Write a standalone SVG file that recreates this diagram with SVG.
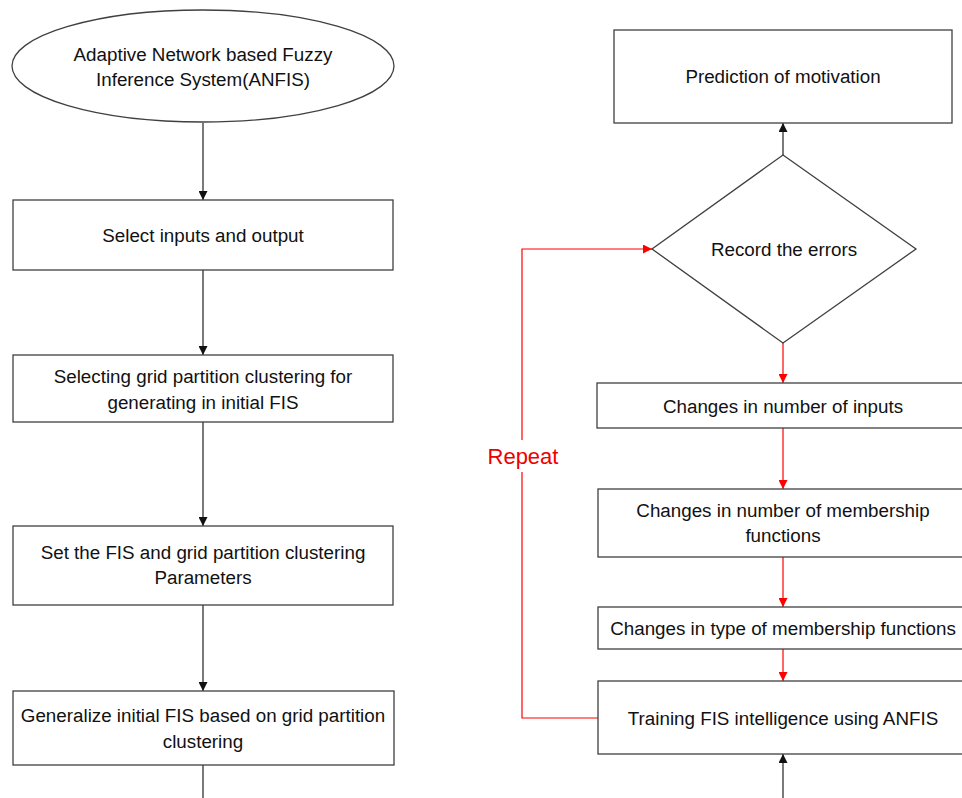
<svg xmlns="http://www.w3.org/2000/svg" width="962" height="798" viewBox="0 0 962 798">
<defs>
<style>
.n{fill:#fff;stroke:#404040;stroke-width:1.3}
.t{font-family:"Liberation Sans",Arial,sans-serif;font-size:18.8px;fill:#111;text-anchor:middle}
.k{fill:none;stroke:#222;stroke-width:1.2}
.r{fill:none;stroke:#f00;stroke-width:1.2}
</style>
<marker id="ab" viewBox="0 0 10 10" refX="10" refY="5" markerWidth="9" markerHeight="9" markerUnits="userSpaceOnUse" orient="auto"><path d="M0,0L10,5L0,10z" fill="#111"/></marker>
<marker id="ar" viewBox="0 0 10 10" refX="10" refY="5" markerWidth="9" markerHeight="9" markerUnits="userSpaceOnUse" orient="auto"><path d="M0,0L10,5L0,10z" fill="#f00"/></marker>
</defs>
<rect width="962" height="798" fill="#fff"/>
<g id="connectors">
<path class="k" d="M203,123V200" marker-end="url(#ab)"/>
<path class="k" d="M203,270V355" marker-end="url(#ab)"/>
<path class="k" d="M203,422V526" marker-end="url(#ab)"/>
<path class="k" d="M203,605V691" marker-end="url(#ab)"/>
<path class="k" d="M203,765V798"/>
<path class="k" d="M783,155V123" marker-end="url(#ab)"/>
<path class="r" d="M783,343V383" marker-end="url(#ar)"/>
<path class="r" d="M783,428V489" marker-end="url(#ar)"/>
<path class="r" d="M783,557V607" marker-end="url(#ar)"/>
<path class="r" d="M783,649V681" marker-end="url(#ar)"/>
<path class="k" d="M783,798V754" marker-end="url(#ab)"/>
<path class="r" d="M598,718H522V472"/>
<path class="r" d="M522,440V249H652" marker-end="url(#ar)"/>
<text x="523" y="464" style="font-family:'Liberation Sans',Arial,sans-serif;font-size:22px;fill:#e00;text-anchor:middle">Repeat</text>
</g>
<g id="anfis"><ellipse class="n" cx="203" cy="66" rx="191" ry="56"/><text class="t" x="203" y="61">Adaptive Network based Fuzzy</text><text class="t" x="203" y="86">Inference System(ANFIS)</text></g>
<g id="select"><rect class="n" x="13" y="200" width="380" height="70"/><text class="t" x="203" y="242">Select inputs and output</text></g>
<g id="grid"><rect class="n" x="13" y="355" width="380" height="67"/><text class="t" x="203" y="383">Selecting grid partition clustering for</text><text class="t" x="203" y="409">generating in initial FIS</text></g>
<g id="params"><rect class="n" x="13" y="526" width="380" height="79"/><text class="t" x="203" y="559">Set the FIS and grid partition clustering</text><text class="t" x="203" y="584">Parameters</text></g>
<g id="generalize"><rect class="n" x="13" y="691" width="381" height="74"/><text class="t" x="203" y="722">Generalize initial FIS based on grid partition</text><text class="t" x="203" y="748">clustering</text></g>
<g id="prediction"><rect class="n" x="614" y="30" width="338" height="93"/><text class="t" x="783" y="83">Prediction of motivation</text></g>
<g id="record"><path class="n" d="M783,155L916,249L783,343L652,249z"/><text class="t" x="784" y="256">Record the errors</text></g>
<g id="inputs"><rect class="n" x="597" y="383" width="370" height="45"/><text class="t" x="783" y="413">Changes in number of inputs</text></g>
<g id="mfnum"><rect class="n" x="598" y="489" width="369" height="68"/><text class="t" x="783" y="517">Changes in number of membership</text><text class="t" x="783" y="542">functions</text></g>
<g id="mftype"><rect class="n" x="598" y="607" width="369" height="42"/><text class="t" x="783" y="635">Changes in type of membership functions</text></g>
<g id="training"><rect class="n" x="598" y="681" width="369" height="73"/><text class="t" x="783" y="725">Training FIS intelligence using ANFIS</text></g>
</svg>
